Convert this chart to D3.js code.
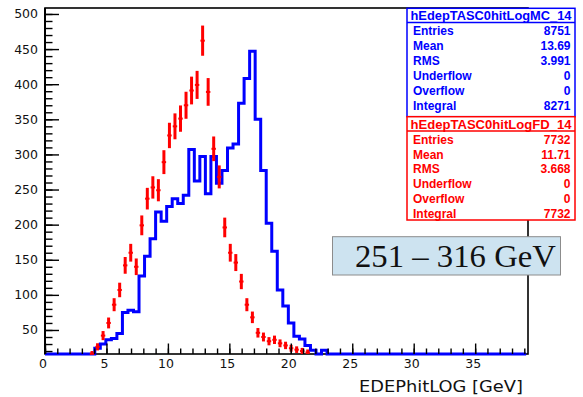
<!DOCTYPE html>
<html>
<head>
<meta charset="utf-8">
<script src="https://cdn.jsdelivr.net/npm/d3@7"></script>
<style>
  html, body { margin: 0; padding: 0; background: #fff; }
  svg { display: block; }
</style>
</head>
<body>
<svg id="chart" width="583" height="397"></svg>
<script>
// Histogram binning (GeV)
const binWidth = 0.45;

// MC histogram contents per bin (blue outline)
const mcCounts = [
  2, 1, 3, 2, 4, 5, 6, 9, 12,
  24, 30, 36, 38, 45, 75, 78, 76,
  127, 155, 180, 218, 205, 226, 237, 230, 242, 307,
  262, 297, 244, 297, 259, 277, 309, 315, 373, 408,
  447, 350, 277, 202, 162, 107, 84, 60, 41, 37,
  28, 21, 12, 21, 9, 7, 5, 6, 4, 3,
  3, 2, 2, 1, 2, 1, 1, 0, 1, 0, 0, 1,
  0, 0, 0, 0, 0, 0, 0, 0, 0, 0, 0, 0, 0, 0, 0, 0, 0, 0
];

// Flight data histogram contents per bin (red, with Poisson errors)
const fdCounts = [
  0, 0, 0, 0, 0, 2, 5, 12, 16,
  26, 42, 60, 86, 107, 142, 160, 140, 199, 237,
  253, 249, 289, 327, 340, 351, 370, 391, 399, 462,
  389, 308, 268, 196, 160, 146, 119, 86, 68, 46,
  40, 34, 36, 31, 28, 24, 22, 20, 18, 12,
  8, 6, 4, 3, 2, 2, 1, 1, 0, 1,
  0, 0, 0, 0, 0, 0, 0, 0, 0, 0, 0, 0, 0, 0,
  0, 0, 0, 0, 0, 0, 0, 0, 0, 0, 0, 0, 0, 0
];

const xTickValues = [0, 5, 10, 15, 20, 25, 30, 35];
const xMinorValues = d3.range(0, 40, 1);
const yTickValues = [50, 100, 150, 200, 250, 300, 350, 400, 450, 500];
const yMinorValues = d3.range(20, 510, 10);

const mcName = "hEdepTASC0hitLogMC_14";
const mcStats = [["Entries", "8751"], ["Mean", "13.69"], ["RMS", "3.991"],
                 ["Underflow", "0"], ["Overflow", "0"], ["Integral", "8271"]];
const fdName = "hEdepTASC0hitLogFD_14";
const fdStats = [["Entries", "7732"], ["Mean", "11.71"], ["RMS", "3.668"],
                 ["Underflow", "0"], ["Overflow", "0"], ["Integral", "7732"]];

const xTitle = "EDEPhitLOG [GeV]";
const rangeLabel = "251 – 316 GeV";

// ---- layout ----
const frame = { left: 45, right: 528, top: 8, bottom: 354 };
const xDomain = [0, 39.3];
const yDomain = [15.8, 508.5];

const svg = d3.select("#chart");
svg.append("rect").attr("width", 583).attr("height", 397).attr("fill", "#fff");

const x = d3.scaleLinear().domain(xDomain).range([frame.left, frame.right]);
const y = d3.scaleLinear().domain(yDomain).range([frame.bottom, frame.top]);
const yc = v => y(Math.max(yDomain[0], Math.min(yDomain[1], v)));

svg.append("defs").append("clipPath").attr("id", "plotClip")
  .append("rect")
  .attr("x", frame.left).attr("y", frame.top)
  .attr("width", frame.right - frame.left)
  .attr("height", frame.bottom - frame.top + 2);

// frame
svg.append("rect")
  .attr("x", frame.left).attr("y", frame.top)
  .attr("width", frame.right - frame.left)
  .attr("height", frame.bottom - frame.top)
  .attr("fill", "none").attr("stroke", "#000").attr("stroke-width", 1.6);

const plot = svg.append("g").attr("clip-path", "url(#plotClip)");

// MC: step outline
const mcPoints = mcCounts.map((v, i) => ({ x0: i * binWidth, v }));
mcPoints.push({ x0: mcCounts.length * binWidth, v: mcCounts[mcCounts.length - 1] });
const stepLine = d3.line()
  .x(d => x(d.x0))
  .y(d => yc(d.v))
  .curve(d3.curveStepAfter);
plot.append("path")
  .datum(mcPoints)
  .attr("d", stepLine)
  .attr("fill", "none")
  .attr("stroke", "#0000ff")
  .attr("stroke-width", 3)
  .attr("stroke-linejoin", "miter");

// FD: vertical error bars with a short mark at the bin content
const fdG = plot.append("g").attr("stroke", "#ff0000");
fdCounts.forEach((v, i) => {
  if (v <= 0) return;
  const err = Math.sqrt(v);
  const xc = x((i + 0.5) * binWidth);
  fdG.append("line")
    .attr("stroke-width", 3)
    .attr("x1", xc).attr("x2", xc)
    .attr("y1", yc(v + err)).attr("y2", yc(v - err));
  if (v >= yDomain[0]) {
    const half = (x(binWidth) - x(0)) * 0.4;
    fdG.append("line")
      .attr("stroke-width", 2)
      .attr("x1", xc - half).attr("x2", xc + half)
      .attr("y1", y(v)).attr("y2", y(v));
  }
});

// axes
const tickFont = "'DejaVu Sans', sans-serif";

const xAxis = svg.append("g")
  .attr("transform", `translate(0,${frame.bottom})`)
  .call(d3.axisBottom(x).tickValues(xTickValues).tickSize(-10.5).tickPadding(5.6)
        .tickFormat(d3.format("d")));
xAxis.select(".domain").remove();
xAxis.selectAll("line").attr("stroke", "#000").attr("stroke-width", 1.4);
xAxis.selectAll("text")
  .attr("font-family", tickFont).attr("font-size", 12.5).attr("fill", "#111")
  .attr("dx", -2.5);

const xMinor = svg.append("g")
  .attr("transform", `translate(0,${frame.bottom})`)
  .call(d3.axisBottom(x).tickValues(xMinorValues).tickSize(-5.5).tickFormat(""));
xMinor.select(".domain").remove();
xMinor.selectAll("line").attr("stroke", "#000").attr("stroke-width", 1.4);

const yAxis = svg.append("g")
  .attr("transform", `translate(${frame.left},0)`)
  .call(d3.axisLeft(y).tickValues(yTickValues).tickSize(-14).tickPadding(7)
        .tickFormat(d3.format("d")));
yAxis.select(".domain").remove();
yAxis.selectAll("line").attr("stroke", "#000").attr("stroke-width", 1.4);
yAxis.selectAll("text")
  .attr("font-family", tickFont).attr("font-size", 12.5).attr("fill", "#111");

const yMinor = svg.append("g")
  .attr("transform", `translate(${frame.left},0)`)
  .call(d3.axisLeft(y).tickValues(yMinorValues).tickSize(-7.5).tickFormat(""));
yMinor.select(".domain").remove();
yMinor.selectAll("line").attr("stroke", "#000").attr("stroke-width", 1.4);

// axis lines on top
svg.append("line").attr("x1", frame.left).attr("x2", frame.left)
  .attr("y1", frame.top).attr("y2", frame.bottom)
  .attr("stroke", "#000").attr("stroke-width", 2);

// x axis title
svg.append("text")
  .attr("x", 523).attr("y", 391.5)
  .attr("text-anchor", "end")
  .attr("font-family", tickFont).attr("font-size", 16.3).attr("fill", "#111")
  .attr("textLength", 164).attr("lengthAdjust", "spacingAndGlyphs")
  .text(xTitle);

// statistics boxes
function statBox(top, bottom, color, name, rows) {
  const g = svg.append("g");
  const left = 407, right = 575, head = 14.2;
  g.append("rect")
    .attr("x", left).attr("y", top).attr("width", right - left).attr("height", bottom - top)
    .attr("fill", "#fff").attr("stroke", color).attr("stroke-width", 1.5);
  g.append("line")
    .attr("x1", left).attr("x2", right).attr("y1", top + head).attr("y2", top + head)
    .attr("stroke", color).attr("stroke-width", 1.5);
  g.append("text")
    .attr("x", (left + right) / 2).attr("y", top + 12)
    .attr("text-anchor", "middle")
    .attr("font-family", "'Liberation Sans', Arial, sans-serif")
    .attr("font-weight", "bold").attr("font-size", 12).attr("fill", color)
    .attr("textLength", 161).attr("lengthAdjust", "spacingAndGlyphs")
    .text(name);
  rows.forEach((r, i) => {
    const by = top + head + 12.7 + i * 14.9;
    g.append("text")
      .attr("x", left + 6).attr("y", by)
      .attr("font-family", "'Liberation Sans', Arial, sans-serif")
      .attr("font-weight", "bold").attr("font-size", 12).attr("fill", color)
      .text(r[0]);
    g.append("text")
      .attr("x", right - 4.5).attr("y", by)
      .attr("text-anchor", "end")
      .attr("font-family", "'Liberation Sans', Arial, sans-serif")
      .attr("font-weight", "bold").attr("font-size", 12).attr("fill", color)
      .text(r[1]);
  });
}
statBox(8.3, 116.7, "#0000ff", mcName, mcStats);
statBox(116.7, 220, "#ff0000", fdName, fdStats);

// energy range label
svg.append("rect")
  .attr("x", 332.5).attr("y", 236.7).attr("width", 228).attr("height", 38.3)
  .attr("fill", "#cde3f0").attr("stroke", "#8c8c8c").attr("stroke-width", 1);
svg.append("text")
  .attr("x", 355).attr("y", 266.5)
  .attr("font-family", "'Liberation Serif', 'DejaVu Serif', serif")
  .attr("font-size", 31.5).attr("fill", "#111")
  .attr("textLength", 201).attr("lengthAdjust", "spacingAndGlyphs")
  .text(rangeLabel);
</script>
</body>
</html>
